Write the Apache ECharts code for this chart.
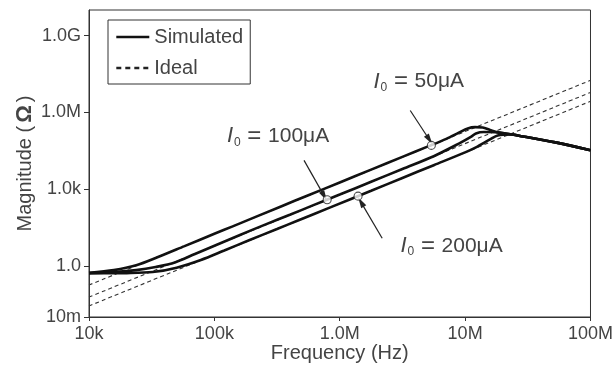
<!DOCTYPE html>
<html>
<head>
<meta charset="utf-8">
<script src="https://cdn.jsdelivr.net/npm/echarts@6/dist/echarts.min.js"></script>
<style>
  html, body { margin: 0; padding: 0; background: #fff; }
  #chart { width: 616px; height: 374px; }
</style>
</head>
<body>
<div id="chart"></div>
<script>
// Axis ticks and labels
const freqTicks = [1e4, 1e5, 1e6, 1e7, 1e8];
const freqLabels = ['10k', '100k', '1.0M', '10M', '100M'];
const magTicks = [1e-2, 1, 1e3, 1e6, 1e9];
const magLabels = ['10m', '1.0', '1.0k', '1.0M', '1.0G'];

// Simulated impedance magnitude, [frequency Hz, |Z| ohm]
const sim50uA = [
  [1.0e4, 0.53], [1.58e4, 0.68], [2.38e4, 1.05], [3.55e4, 2.2], [5.78e4, 5.9],
  [1.0e5, 17.9], [1.4e5, 35], [3.4e5, 210], [5.62e5, 575], [1.0e6, 1820],
  [1.78e6, 5760], [3.16e6, 18200], [5.01e6, 45500], [7.08e6, 92000],
  [8.91e6, 1.6e5], [1.05e7, 2.35e5], [1.2e7, 2.65e5], [1.38e7, 2.55e5],
  [1.58e7, 2.05e5], [1.82e7, 1.65e5], [2.34e7, 1.37e5], [2.63e7, 1.25e5],
  [5.25e7, 6.7e4], [1.0e8, 3.3e4]
];
const sim100uA = [
  [1.0e4, 0.52], [1.58e4, 0.57], [2.38e4, 0.68], [3.4e4, 0.9], [4.84e4, 1.35],
  [7.0e4, 2.9], [1.035e5, 6.5], [1.6e5, 16], [2.51e5, 40], [4.0e5, 99],
  [6.1e5, 230], [1.0e6, 610], [1.78e6, 1930], [3.16e6, 6100], [5.62e6, 19300],
  [8.91e6, 60000], [1.12e7, 1.12e5], [1.22e7, 1.5e5], [1.41e7, 1.7e5],
  [1.82e7, 1.65e5], [2.34e7, 1.37e5], [2.63e7, 1.25e5], [5.25e7, 6.7e4],
  [1.0e8, 3.3e4]
];
const sim200uA = [
  [1.0e4, 0.51], [2.0e4, 0.52], [3.22e4, 0.57], [5.0e4, 0.85], [7.8e4, 1.7],
  [1.2e5, 4.0], [1.89e5, 10], [3.16e5, 27.5], [4.59e5, 58], [8.5e5, 197],
  [1.78e6, 860], [3.16e6, 2720], [5.62e6, 8600], [1.0e7, 27200],
  [1.22e7, 42700], [1.58e7, 87000], [1.82e7, 1.25e5], [2.34e7, 1.37e5],
  [2.63e7, 1.25e5], [5.25e7, 6.7e4], [1.0e8, 3.3e4]
];

// Ideal (f^2) responses
const ideal50uA = [[1e4, 0.178], [1e8, 1.78e7]];
const ideal100uA = [[1e4, 0.06], [1e8, 6.0e6]];
const ideal200uA = [[1e4, 0.027], [1e8, 2.7e6]];

// Marked points on each simulated curve
const markers = [[5.38e6, 5.1e4], [7.94e5, 385], [1.4e6, 530]];

// Callout arrows: [from, to]
const arrows = [
  [[3.65e6, 1.18e6], [5.19e6, 8.5e4]],
  [[5.19e5, 1.33e4], [7.53e5, 530]],
  [[2.18e6, 12], [1.476e6, 310]]
];
// Callout label anchors and currents
const calloutPos = [[4.27e6, 1.6e7], [3.22e5, 1.15e5], [7.8e6, 5.9]];
const calloutCurrents = ['50', '100', '200'];

const FONT = 'Liberation Sans, Arial, Helvetica, sans-serif';
const TXT = '#444';

function labelFor(v, ticks, labels) {
  const e = Math.round(Math.log10(v));
  const i = ticks.findIndex(t => Math.round(Math.log10(t)) === e);
  return i >= 0 ? labels[i] : '';
}

const simStyle = { color: '#111', width: 2.6 };
const idealStyle = { color: '#333', width: 1.1, type: [4, 3] };

const chart = echarts.init(document.getElementById('chart'), null, { renderer: 'canvas' });

const lineSeries = (name, data, style, z) => ({
  name, type: 'line', data, symbol: 'none', showSymbol: false,
  smooth: 0.3, lineStyle: style, itemStyle: { color: style.color }, z,
  silent: true, animation: false
});

const hiddenIcon = { opacity: 0, color: 'transparent', borderColor: 'transparent', borderWidth: 0 };

chart.setOption({
  animation: false,
  textStyle: { fontFamily: FONT },
  grid: {
    left: 89, right: 7, top: 10, bottom: 57,
    show: true, borderColor: '#333', borderWidth: 1, backgroundColor: 'transparent'
  },
  legend: {
    orient: 'vertical', left: 108, top: 20,
    padding: [7, 7, 6, 7], itemGap: 11, itemWidth: 33, itemHeight: 14,
    borderColor: '#333', borderWidth: 1, selectedMode: false,
    textStyle: { fontSize: 20, color: TXT, fontFamily: FONT },
    itemStyle: hiddenIcon,
    data: [
      { name: 'Simulated', itemStyle: hiddenIcon, lineStyle: { width: 2.6, color: '#111' } },
      { name: 'Ideal', itemStyle: hiddenIcon, lineStyle: { width: 2.4, color: '#222', type: [5, 4] } }
    ]
  },
  xAxis: {
    type: 'log', logBase: 10, min: 1e4, max: 1e8,
    name: 'Frequency (Hz)', nameLocation: 'middle', nameGap: 26, nameMoveOverlap: false,
    nameTextStyle: { fontSize: 20, color: TXT, fontFamily: FONT },
    axisLine: { show: true, lineStyle: { color: '#333', width: 1 } },
    axisTick: { show: true, length: 4, lineStyle: { color: '#333' }, customValues: freqTicks },
    axisLabel: {
      fontSize: 18, color: TXT, margin: 8, customValues: freqTicks,
      formatter: v => labelFor(v, freqTicks, freqLabels)
    },
    splitLine: { show: false }, minorTick: { show: false }
  },
  yAxis: {
    type: 'log', logBase: 10, min: 1e-2, max: 1e10,
    name: 'Magnitude ({o|Ω})', nameLocation: 'middle', nameGap: 53, nameRotate: 90,
    nameMoveOverlap: false,
    nameTextStyle: {
      fontSize: 20, color: TXT, fontFamily: FONT,
      rich: { o: { fontSize: 22, fontWeight: 'bold', color: TXT, padding: [0, 3, 0, 3], fontFamily: FONT } }
    },
    axisLine: { show: true, lineStyle: { color: '#333', width: 1 } },
    axisTick: { show: true, length: 5, lineStyle: { color: '#333' }, customValues: magTicks },
    axisLabel: {
      fontSize: 18, color: TXT, margin: 8, customValues: magTicks,
      formatter: v => labelFor(v, magTicks, magLabels)
    },
    splitLine: { show: false }, minorTick: { show: false }
  },
  series: [
    lineSeries('Ideal', ideal50uA, idealStyle, 2),
    lineSeries('Ideal', ideal100uA, idealStyle, 2),
    lineSeries('Ideal', ideal200uA, idealStyle, 2),
    lineSeries('Simulated', sim50uA, simStyle, 3),
    lineSeries('Simulated', sim100uA, simStyle, 3),
    lineSeries('Simulated', sim200uA, simStyle, 3),
    {
      name: 'points', type: 'scatter', data: markers, z: 5, silent: true,
      symbol: 'circle', symbolSize: 8,
      itemStyle: { color: '#fff', borderColor: '#222', borderWidth: 1.1 },
      markLine: {
        silent: true, animation: false,
        symbol: ['none', 'path://M5,0 L9,15 L1,15 Z'], symbolSize: 11, symbolKeepAspect: true,
        lineStyle: { color: '#222', width: 1.2, type: 'solid' },
        label: { show: false },
        data: arrows.map(a => [{ coord: a[0] }, { coord: a[1] }])
      },
      markPoint: {
        silent: true, animation: false, symbol: 'circle', symbolSize: 0,
        data: calloutPos.map((p, i) => ({
          coord: p,
          label: {
            show: true, position: 'inside',
            formatter: '{i|I}{s|0}{e| = }{n|' + calloutCurrents[i] + '}{u|μA}',
            rich: {
              i: { fontSize: 22, fontStyle: 'italic', color: TXT, fontFamily: FONT },
              s: { fontSize: 12, color: TXT, padding: [12, 0, 0, 1], fontFamily: FONT },
              e: { fontSize: 24, color: TXT, fontFamily: FONT },
              n: { fontSize: 21, color: TXT, fontFamily: FONT },
              u: { fontSize: 21, color: TXT, fontFamily: FONT }
            }
          }
        }))
      }
    }
  ]
});
</script>
</body>
</html>
